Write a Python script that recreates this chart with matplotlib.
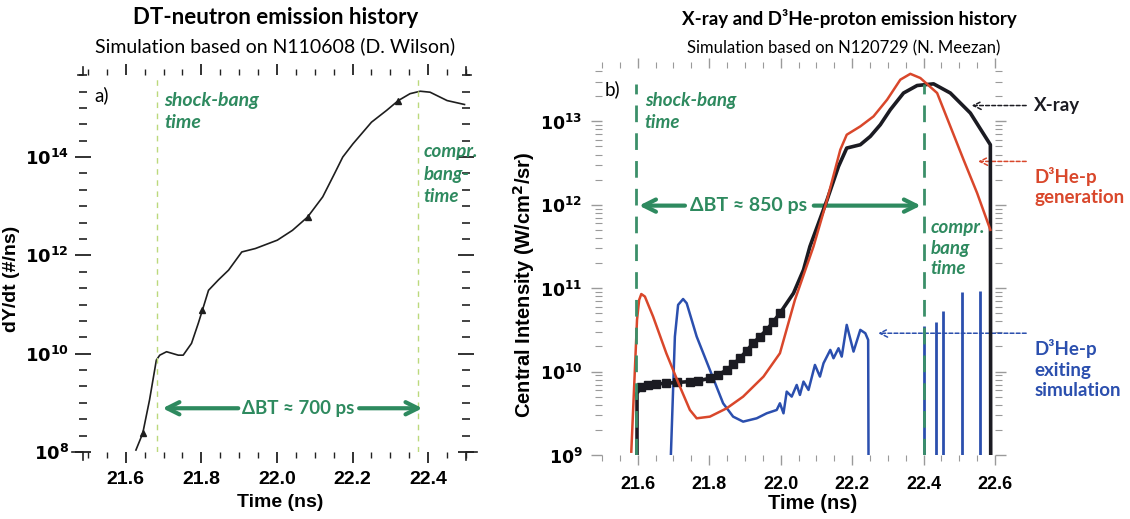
import numpy as np
import matplotlib.pyplot as plt
from matplotlib.ticker import FixedLocator, MultipleLocator, LogLocator, FuncFormatter, NullFormatter

plt.rcParams['font.family'] = ['Liberation Sans', 'DejaVu Sans']
CAL = ['Lato', 'DejaVu Sans']

GREEN = '#2e8a5f'
RED = '#d9472b'
BLUE = '#2b4fae'

# ---- panel a): DT-neutron emission (log10 of dY/dt)
dt_time = [21.627, 21.645, 21.663, 21.681, 21.69, 21.708, 21.739, 21.752, 21.774, 21.792,
           21.803, 21.819, 21.845, 21.872, 21.907, 21.943, 22.001, 22.041, 22.081, 22.121,
           22.152, 22.174, 22.201, 22.25, 22.29, 22.321, 22.352, 22.379, 22.405, 22.45, 22.496]
dt_log10 = [8.04, 8.38, 9.06, 9.87, 9.97, 10.04, 9.97, 9.97, 10.21, 10.62,
            10.89, 11.29, 11.5, 11.7, 12.07, 12.14, 12.31, 12.51, 12.78, 13.19,
            13.66, 14.0, 14.27, 14.71, 14.95, 15.15, 15.29, 15.34, 15.32, 15.15, 15.07]
dt_triangles = [1, 10, 18, 25]
bang_a = [21.682, 22.374]

# ---- panel b): X-ray, D3He-p generation, D3He-p exiting (log10 of intensity)
xr_time = [21.598, 21.598, 21.61, 21.63, 21.65, 21.68, 21.71, 21.746, 21.77, 21.802,
           21.825, 21.849, 21.868, 21.886, 21.905, 21.923, 21.942, 21.961, 21.98, 21.998,
           22.036, 22.064, 22.082, 22.13, 22.162, 22.185, 22.223, 22.251, 22.279, 22.307,
           22.344, 22.382, 22.428, 22.475, 22.531, 22.587, 22.588]
xr_log10 = [8.9, 9.74, 9.82, 9.84, 9.85, 9.86, 9.87, 9.88, 9.89, 9.92,
            9.96, 10.02, 10.09, 10.16, 10.25, 10.34, 10.42, 10.50, 10.60, 10.70,
            10.94, 11.22, 11.50, 12.06, 12.46, 12.68, 12.72, 12.82, 12.96, 13.14,
            13.34, 13.43, 13.45, 13.34, 13.10, 12.72, 8.9]
xr_squares = list(range(2, 20))

gen_time = [21.582, 21.592, 21.598, 21.604, 21.61, 21.62, 21.643, 21.68, 21.718, 21.746,
            21.765, 21.802, 21.849, 21.895, 21.952, 21.998, 22.04, 22.092, 22.13, 22.167,
            22.185, 22.223, 22.26, 22.298, 22.335, 22.363, 22.391, 22.438, 22.475, 22.512,
            22.55, 22.587]
gen_log10 = [9.04, 10.02, 10.62, 10.86, 10.93, 10.90, 10.66, 10.22, 9.82, 9.54,
             9.44, 9.46, 9.56, 9.70, 9.94, 10.22, 10.86, 11.50, 12.06, 12.66,
             12.84, 12.94, 13.06, 13.26, 13.50, 13.57, 13.52, 13.34, 12.94, 12.54,
             12.14, 11.70]

exit_time = [21.692, 21.704, 21.713, 21.727, 21.737, 21.765, 21.802, 21.839, 21.867, 21.895,
             21.933, 21.961, 21.989, 21.998, 22.008, 22.017, 22.031, 22.045, 22.054, 22.064,
             22.078, 22.096, 22.11, 22.12, 22.139, 22.148, 22.162, 22.171, 22.185, 22.204,
             22.223, 22.237, 22.245, 22.246]
exit_log10 = [8.9, 10.42, 10.80, 10.87, 10.82, 10.42, 10.02, 9.62, 9.46, 9.40,
              9.44, 9.50, 9.54, 9.62, 9.50, 9.76, 9.70, 9.84, 9.72, 9.88,
              9.78, 10.08, 9.94, 10.10, 10.26, 10.16, 10.28, 10.18, 10.56, 10.24,
              10.50, 10.46, 10.38, 8.9]
spike_time = [22.40, 22.435, 22.455, 22.508, 22.557]
spike_log10 = [10.55, 10.60, 10.73, 10.95, 10.97]
bang_b = [21.594, 22.40]

fig = plt.figure(figsize=(11.3, 5.19), dpi=100)
axL = fig.add_axes([83 / 1130, 1 - 452 / 519, 383 / 1130, 377 / 519])
axR = fig.add_axes([602 / 1130, 1 - 455 / 519, 393 / 1130, 387 / 519])

sup = FuncFormatter(lambda v, p: r'$\mathbf{10^{%d}}$' % round(np.log10(v)))

# ---------------- panel a
axL.plot(dt_time, 10 ** np.array(dt_log10), color='#1e1e1e', lw=1.2,
         marker='^', markevery=dt_triangles, ms=5)
for t in bang_a:
    axL.axvline(t, color='#bcd97c', lw=1, ls=(0, (4, 4)))
axL.set_yscale('log')
axL.set_xlim(21.487, 22.50)
axL.set_ylim(1e8, 10 ** 15.67)
axL.yaxis.set_major_locator(FixedLocator([1e8, 1e10, 1e12, 1e14]))
axL.yaxis.set_minor_locator(FixedLocator(10 ** (np.arange(24, 48) / 3)))
axL.yaxis.set_major_formatter(sup)
axL.yaxis.set_minor_formatter(NullFormatter())
axL.xaxis.set_major_locator(MultipleLocator(0.2))
axL.xaxis.set_minor_locator(MultipleLocator(0.05))
axL.xaxis.set_major_formatter(FuncFormatter(lambda v, p: '%.1f' % v))
for sp in axL.spines.values():
    sp.set_visible(False)
axL.tick_params(axis='x', which='both', direction='out', top=True, bottom=True, color='#222222')
axL.tick_params(axis='x', which='major', length=8, width=1.3, labelsize=14, pad=6)
axL.tick_params(axis='x', which='minor', length=4, width=1)
axL.tick_params(axis='y', which='both', direction='inout', left=True, right=True, color='#222222')
axL.tick_params(axis='y', which='major', length=12, width=1.3, labelsize=13, pad=4)
axL.tick_params(axis='y', which='minor', length=6, width=1.2)
for lab in axL.get_xticklabels() + axL.get_yticklabels():
    lab.set_fontweight('bold')
# corner brackets of the frame
for cx, cy, dx, dy in [(0, 1, -0.012, 0.02), (1, 1, 0.012, 0.02), (0, 0, -0.03, -0.02), (1, 0, 0.03, -0.02)]:
    axL.plot([cx + dx, cx, cx], [cy, cy, cy + dy], color='#222222', lw=1.2,
             transform=axL.transAxes, clip_on=False)
axL.set_xlabel('Time (ns)', fontsize=14, fontweight='bold')
axL.xaxis.set_label_coords(0.515, -0.112)
axL.set_ylabel('dY/dt (#/ns)', fontsize=14, fontweight='bold')
axL.yaxis.set_label_coords(-0.165, 0.46)

axL.text(21.517, 10 ** 15.26, 'a)', fontsize=13.5, family=CAL, va='center')
axL.text(21.703, 10 ** 14.92, 'shock-bang\ntime', fontsize=14, family=CAL, color=GREEN,
         fontweight='bold', style='italic', va='center', linespacing=1.35)
axL.text(22.387, 10 ** 13.65, 'compr.\nbang-\ntime', fontsize=13.5, family=CAL, color=GREEN,
         fontweight='bold', style='italic', va='center', linespacing=1.4)
yA = 10 ** 8.89
axL.annotate('', xy=(21.69, yA), xytext=(21.905, yA),
             arrowprops=dict(arrowstyle='->', color=GREEN, lw=3, mutation_scale=22))
axL.annotate('', xy=(22.392, yA), xytext=(22.21, yA),
             arrowprops=dict(arrowstyle='->', color=GREEN, lw=3, mutation_scale=22))
axL.text(22.057, yA, 'ΔBT ≈ 700 ps', fontsize=13.5, family=CAL, color=GREEN,
         fontweight='bold', ha='center', va='center')

# ---------------- panel b
axR.plot(xr_time, 10 ** np.array(xr_log10), color='#1b1b22', lw=2.6, zorder=4,
         marker='s', markevery=xr_squares, ms=5.5)
axR.plot(gen_time, 10 ** np.array(gen_log10), color=RED, lw=1.8, zorder=5)
axR.plot(exit_time, 10 ** np.array(exit_log10), color=BLUE, lw=1.8, zorder=3)
axR.vlines(spike_time, 1e9, 10 ** np.array(spike_log10), color=BLUE, lw=2, zorder=3)
axR.vlines(bang_b, 1e9, 10 ** 13.45, color='#3b8f69', lw=2, linestyles=(0, (6, 4)), zorder=6)
axR.set_yscale('log')
axR.set_xlim(21.5, 22.6)
axR.set_ylim(1e9, 10 ** 13.64)
axR.yaxis.set_major_locator(FixedLocator([1e9, 1e10, 1e11, 1e12, 1e13]))
axR.yaxis.set_minor_locator(LogLocator(base=10, subs=np.arange(2, 10)))
axR.yaxis.set_major_formatter(sup)
axR.yaxis.set_minor_formatter(NullFormatter())
axR.xaxis.set_major_locator(MultipleLocator(0.2))
axR.xaxis.set_minor_locator(MultipleLocator(0.05))
axR.xaxis.set_major_formatter(FuncFormatter(lambda v, p: '%.1f' % v))
for sp in axR.spines.values():
    sp.set_visible(False)
axR.tick_params(axis='both', which='both', direction='out', top=True, right=True, color='#9a9a9a')
axR.tick_params(axis='x', which='major', length=7, width=1, labelsize=13, pad=8)
axR.tick_params(axis='x', which='minor', length=4, width=0.8)
axR.tick_params(axis='y', which='major', length=8, width=1, labelsize=12.5, pad=6)
axR.tick_params(axis='y', which='minor', length=5, width=0.8)
for lab in axR.get_xticklabels() + axR.get_yticklabels():
    lab.set_fontweight('bold')
axR.set_xlabel('Time (ns)', fontsize=14.5, fontweight='bold')
axR.xaxis.set_label_coords(0.537, -0.1)
axR.set_ylabel('Central Intensity (W/cm$^\\mathbf{2}$/sr)', fontsize=14.5, fontweight='bold')
axR.yaxis.set_label_coords(-0.165, 0.44)

axR.text(21.508, 10 ** 13.38, 'b)', fontsize=13.5, family=CAL, va='center')
axR.text(21.62, 10 ** 13.12, 'shock-bang\ntime', fontsize=13.5, family=CAL, color=GREEN,
         fontweight='bold', style='italic', va='center', linespacing=1.4)
axR.text(22.419, 10 ** 11.48, 'compr.\nbang\ntime', fontsize=13.5, family=CAL, color=GREEN,
         fontweight='bold', style='italic', va='center', linespacing=1.25)
yB = 10 ** 11.99
axR.annotate('', xy=(21.596, yB), xytext=(21.74, yB),
             arrowprops=dict(arrowstyle='->', color=GREEN, lw=3, mutation_scale=22))
axR.annotate('', xy=(22.40, yB), xytext=(22.085, yB),
             arrowprops=dict(arrowstyle='->', color=GREEN, lw=3, mutation_scale=22))
axR.text(21.909, yB, 'ΔBT ≈ 850 ps', fontsize=14, family=CAL, color=GREEN,
         fontweight='bold', ha='center', va='center')

notes = [('X-ray', '#1b1b22', 13.19, 22.527, 13.19),
         ('D³He-p\ngeneration', RED, 12.52, 22.545, 12.22),
         ('D³He-p\nexiting\nsimulation', BLUE, 10.46, 22.265, 10.03)]
for txt, col, ya, xtip, ytxt in notes:
    axR.annotate('', xy=(xtip, 10 ** ya), xytext=(22.695, 10 ** ya), annotation_clip=False,
                 arrowprops=dict(arrowstyle='->', color=col, lw=1.1, ls=(0, (2.5, 1.5)),
                                 mutation_scale=14))
    axR.text(22.71, 10 ** ytxt, txt, color=col, fontsize=13.5, family=CAL, fontweight='bold',
             va='center', ha='left', clip_on=False, linespacing=1.25)

# ---------------- titles
fig.text(276 / 1130, 1 - 18 / 519, 'DT-neutron emission history', ha='center', va='center',
         fontsize=16, fontweight='bold', family=CAL)
fig.text(275 / 1130, 1 - 46 / 519, 'Simulation based on N110608 (D. Wilson)', ha='center',
         va='center', fontsize=14, family=CAL)
fig.text(849 / 1130, 1 - 19 / 519, 'X-ray and D³He-proton emission history', ha='center',
         va='center', fontsize=13.5, fontweight='bold', family=CAL)
fig.text(844 / 1130, 1 - 48 / 519, 'Simulation based on N120729 (N. Meezan)', ha='center',
         va='center', fontsize=12, family=CAL)

fig.savefig('out.png', dpi=100)
